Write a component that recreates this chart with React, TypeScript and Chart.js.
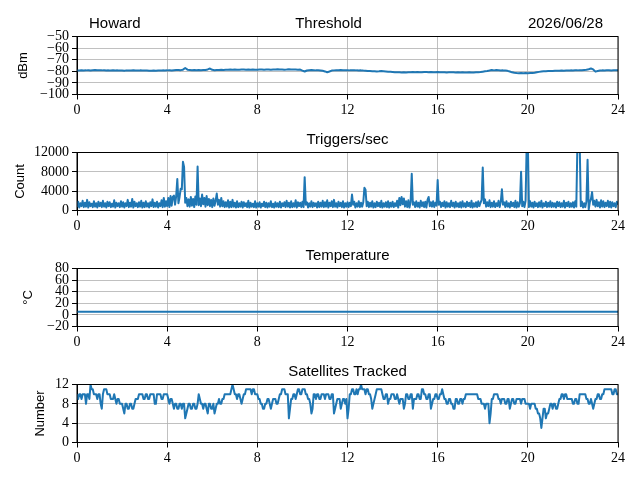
import { useEffect, useRef } from 'react';
import { Chart, registerables } from 'chart.js';

Chart.register(...registerables);

// ---- Data ----
const HOUR_TICKS = [0, 4, 8, 12, 16, 20, 24];
const THRESHOLD_STEP_HOURS = 0.1;
const DENSE_STEP_HOURS = 0.05;

const THRESHOLD_TICKS = [-100, -90, -80, -70, -60, -50];
const TRIGGER_TICKS = [0, 4000, 8000, 12000];
const TEMPERATURE_TICKS = [-20, 0, 20, 40, 60, 80];
const SATELLITE_TICKS = [0, 4, 8, 12];

const THRESHOLD_DBM = [
  -79.2, -79.4, -79.1, -79.3, -79.2, -79.0, -79.3, -79.1, -78.9, -79.0,
  -79.1, -79.2, -79.0, -79.3, -79.2, -79.4, -79.1, -79.3, -79.2, -79.4,
  -79.3, -79.5, -79.2, -79.4, -79.3, -79.1, -79.3, -79.4, -79.2, -79.3,
  -79.4, -79.3, -79.5, -79.6, -79.4, -79.5, -79.3, -79.4, -79.2, -79.3,
  -79.2, -79.0, -79.3, -79.1, -78.9, -78.8, -79.0, -78.6, -77.2, -78.6,
  -78.8, -79.0, -78.8, -79.1, -78.9, -79.0, -78.8, -78.9, -78.4, -77.6,
  -78.7, -79.0, -78.8, -78.9, -78.7, -78.8, -78.6, -78.7, -78.5, -78.6,
  -78.5, -78.7, -78.6, -78.5, -78.4, -78.6, -78.5, -78.7, -78.5, -78.6,
  -78.6, -78.5, -78.4, -78.6, -78.5, -78.4, -78.6, -78.5, -78.4, -78.3,
  -78.5, -78.4, -78.6, -78.5, -78.3, -78.4, -78.5, -78.4, -78.6, -78.5,
  -79.4, -80.2, -79.3, -79.0, -78.9, -79.0, -79.2, -79.1, -79.3, -79.6,
  -80.1, -80.8, -80.2, -79.4, -79.2, -79.0, -79.1, -78.9, -79.0, -79.1,
  -79.0, -79.2, -79.1, -79.0, -79.2, -79.3, -79.2, -79.4, -79.5, -79.7,
  -79.8, -80.0, -79.9, -80.1, -80.0, -79.8, -79.9, -80.1, -80.3, -80.4,
  -80.6, -80.8, -80.9, -80.8, -81.0, -80.9, -81.1, -80.9, -80.8, -80.7,
  -80.8, -80.7, -80.9, -80.8, -80.6, -80.7, -80.8, -80.7, -80.9, -80.8,
  -80.7, -80.8, -80.9, -80.8, -81.0, -80.9, -80.8, -80.9, -81.0, -80.9,
  -81.0, -80.9, -81.1, -81.0, -80.9, -81.0, -81.1, -80.9, -80.8, -80.6,
  -80.3, -80.0, -79.7, -79.3, -78.8, -79.2, -78.9, -79.1, -79.3, -79.2,
  -79.4, -79.6, -80.2, -80.9, -81.3, -81.5, -81.6, -81.4, -81.6, -81.5,
  -81.6, -81.5, -81.4, -81.2, -80.8, -80.5, -80.2, -80.0, -79.9, -79.8,
  -79.7, -79.8, -79.6, -79.5, -79.6, -79.4, -79.5, -79.3, -79.4, -79.2,
  -79.3, -79.1, -79.2, -79.0, -79.1, -78.9, -78.7, -78.2, -77.6, -78.4,
  -80.3, -79.8, -79.4, -79.2, -79.3, -79.1, -79.2, -79.3, -79.1, -79.2,
  -79.2,
];

// one value every 3 minutes (20 per hour)
const TRIGGERS_PER_SEC = [
  700, 1800, 600, 1500, 900, 2000, 700, 1600, 800, 2200, 600, 1700, 900, 1400, 700, 1900, 800, 1500, 600, 1800,
  900, 1600, 700, 2000, 800, 1500, 600, 1800, 900, 1700, 700, 1400, 800, 2100, 600, 1600, 900, 1500, 700, 1900,
  800, 1700, 600, 1500, 900, 2200, 700, 1600, 800, 2400, 600, 1800, 900, 1500, 700, 1700, 800, 2000, 600, 1600,
  700, 1900, 800, 1500, 600, 1700, 900, 2300, 700, 1600, 800, 1800, 600, 1500, 900, 2100, 700, 2600, 800, 1900,
  900, 2600, 700, 3000, 1000, 2800, 3100, 1200, 3000, 6500, 1500, 2800, 4500, 4400, 10100, 9000, 1600, 2600, 900, 2300,
  800, 2800, 1000, 2400, 700, 2900, 1200, 9100, 1100, 2500, 900, 3300, 1300, 2600, 800, 3000, 1100, 2400, 900, 2200,
  700, 2500, 1000, 2000, 3500, 1200, 2200, 800, 2600, 900, 1900, 700, 1700, 800, 2100, 600, 1800, 700, 2200, 800,
  1600, 600, 1900, 700, 1500, 800, 1800, 600, 1700, 900, 1500, 700, 2000, 600, 1600, 800, 1400, 700, 1900, 600,
  1500, 800, 1700, 600, 1400, 900, 1800, 700, 1600, 600, 1500, 800, 1900, 700, 1400, 600, 1700, 800, 1500, 700,
  1800, 600, 1500, 900, 1700, 700, 2000, 800, 1600, 600, 1900, 700, 1500, 800, 2100, 600, 1700, 900, 1600, 700,
  1800, 700, 6900, 1200, 1700, 600, 1500, 800, 1900, 700, 1600, 900, 1500, 600, 1800, 700, 1600, 800, 2000, 700,
  1700, 800, 2100, 600, 1600, 900, 1900, 700, 2200, 800, 1500, 600, 1800, 900, 1600, 700, 1900, 600, 1500, 800,
  1700, 700, 1600, 900, 3300, 1200, 1800, 600, 1500, 800, 1900, 700, 1600, 800, 1700, 4700, 4300, 900, 1800, 700,
  1600, 800, 1900, 600, 1500, 700, 1800, 900, 1600, 700, 2000, 600, 1500, 800, 1700, 700, 1900, 600, 1600, 800,
  1800, 700, 1500, 900, 2000, 600, 2600, 1100, 2800, 1300, 2500, 800, 1900, 700, 2100, 600, 1800, 7600, 1200, 1700,
  700, 1900, 800, 1600, 600, 2000, 900, 1700, 700, 1800, 600, 2200, 2800, 900, 1700, 800, 1900, 700, 1600, 1000,
  6300, 1200, 1800, 700, 1600, 900, 1900, 600, 1700, 800, 1500, 700, 2000, 900, 1600, 600, 1800, 800, 1500, 700,
  1700, 600, 1900, 800, 1500, 700, 1800, 900, 1600, 700, 2000, 600, 1500, 800, 1700, 700, 1900, 900, 1600, 2200,
  8900, 1500, 2300, 800, 1700, 900, 2100, 700, 1600, 800, 1900, 700, 1500, 900, 2000, 700, 1800, 4400, 1200, 1700,
  700, 1900, 800, 1500, 600, 1800, 900, 1600, 700, 2000, 600, 1700, 800, 1500, 8000, 900, 1800, 700, 2000, 14000,
  14000, 700, 1900, 800, 1600, 600, 1800, 900, 1500, 700, 1700, 800, 2000, 600, 1500, 900, 1800, 700, 1600, 800,
  1900, 700, 1600, 800, 1500, 600, 1800, 900, 1700, 700, 1500, 800, 2000, 600, 1600, 900, 1800, 700, 1500, 800,
  1700, 600, 1900, 800, 14000, 14000, 14000, 900, 1800, 600, 1500, 700, 1900, 10500, 200, 1700, 2400, 3800, 1200, 2000,
  800, 2200, 900, 1700, 600, 2100, 800, 1900, 700, 1600, 900, 2000, 700, 1800, 600, 1700, 900, 1500, 700, 1800,
  1200,
];

const TEMPERATURE_HOURS = [0, 2, 4, 6, 8, 10, 12, 14, 16, 18, 20, 22, 24];
const TEMPERATURE_C = [5.5, 5.5, 5.5, 5.5, 5.5, 5.5, 5.5, 5.5, 5.5, 5.5, 5.5, 5.5, 5.5];

// one value every 3 minutes (20 per hour)
const SATELLITES = [
  10, 9, 10, 10, 9, 10, 10, 10, 8, 10, 10, 9, 12, 11, 11, 10, 10, 10, 9, 10,
  10, 8, 7, 10, 11, 11, 11, 10, 10, 10, 9, 9, 9, 10, 9, 8, 9, 9, 8, 8,
  8, 7, 6, 8, 8, 7, 7, 8, 8, 7, 7, 8, 9, 9, 9, 10, 10, 10, 10, 9,
  9, 10, 10, 9, 9, 10, 10, 10, 10, 8, 8, 10, 10, 10, 10, 9, 9, 10, 10, 10,
  10, 9, 8, 9, 9, 8, 7, 8, 8, 7, 7, 8, 8, 7, 8, 8, 5, 6, 7, 8,
  8, 7, 7, 8, 8, 7, 7, 8, 10, 9, 8, 8, 7, 8, 8, 7, 6, 8, 8, 7,
  7, 8, 6, 7, 8, 8, 9, 8, 8, 9, 9, 10, 10, 10, 10, 10, 10, 11, 12, 11,
  10, 10, 9, 10, 10, 9, 8, 9, 10, 10, 11, 11, 11, 11, 11, 10, 11, 11, 10, 10,
  10, 9, 9, 8, 8, 7, 7, 8, 8, 9, 9, 8, 7, 8, 9, 9, 9, 8, 8, 9,
  10, 10, 11, 11, 11, 10, 10, 10, 5, 7, 9, 9, 10, 10, 9, 10, 11, 11, 10, 10,
  11, 11, 11, 10, 10, 9, 9, 8, 6, 7, 10, 10, 9, 10, 10, 9, 9, 10, 10, 10,
  9, 10, 10, 10, 9, 9, 10, 10, 6, 7, 8, 9, 9, 9, 7, 8, 9, 9, 8, 9,
  5, 7, 10, 10, 11, 11, 10, 10, 11, 10, 11, 11, 12, 11, 11, 11, 10, 11, 11, 10,
  10, 9, 7, 8, 9, 10, 11, 11, 11, 11, 11, 10, 9, 9, 10, 10, 8, 9, 9, 10,
  10, 10, 9, 9, 10, 9, 8, 9, 9, 9, 7, 8, 10, 10, 9, 9, 10, 10, 7, 9,
  9, 9, 10, 10, 9, 9, 11, 11, 10, 10, 9, 9, 10, 10, 7, 8, 9, 9, 10, 10,
  9, 9, 10, 10, 11, 10, 9, 9, 8, 8, 9, 9, 8, 8, 7, 7, 9, 9, 8, 8,
  9, 9, 8, 9, 9, 10, 10, 10, 10, 10, 10, 10, 10, 10, 10, 10, 9, 9, 9, 8,
  8, 8, 7, 8, 8, 8, 4, 6, 9, 9, 10, 10, 10, 10, 9, 9, 8, 9, 9, 9,
  8, 8, 9, 9, 7, 8, 9, 9, 8, 8, 9, 9, 9, 9, 8, 9, 9, 9, 8, 8,
  8, 8, 7, 8, 8, 8, 8, 7, 7, 6, 6, 5, 3, 5, 7, 7, 5, 6, 6, 7,
  8, 8, 7, 8, 8, 7, 7, 8, 9, 9, 10, 10, 9, 10, 10, 9, 9, 9, 9, 9,
  8, 8, 9, 9, 8, 8, 10, 10, 10, 10, 10, 10, 9, 9, 8, 8, 9, 8, 7, 8,
  9, 9, 10, 10, 9, 9, 10, 10, 11, 11, 11, 11, 11, 11, 11, 10, 10, 11, 11, 10,
  10,
];

// ---- Layout / style ----
const W = 640;
const PANEL_H = 116;
const AREA_TOP = 36.5;
const X_AXIS_H = 21.5;
const Y_AXIS_W = 77;
const RIGHT_PAD = 22;
const TITLE_GAP = 9;
const LINE_COLOR = '#1f77b4';
const GRID_COLOR = '#b0b0b0';
const TICK_FONT = 'Liberation Serif';
const TEXT_FONT = 'Liberation Sans';

type TitleSpec = { text: string; x?: number; align: CanvasTextAlign };
type Panel = {
  titles: TitleSpec[];
  ylabel: string;
  ylabelX: number;
  yMin: number;
  yMax: number;
  yTicks: number[];
  points: { x: number; y: number }[];
};

const sampled = (values: number[], step: number) =>
  values.map((v, i) => ({ x: Math.round(i * step * 1000) / 1000, y: v }));

const PANELS: Panel[] = [
  {
    titles: [
      { text: 'Howard', x: 89, align: 'left' },
      { text: 'Threshold', x: 328.5, align: 'center' },
      { text: '2026/06/28', x: 603, align: 'right' },
    ],
    ylabel: 'dBm', ylabelX: 23, yMin: -100, yMax: -50, yTicks: THRESHOLD_TICKS,
    points: sampled(THRESHOLD_DBM, THRESHOLD_STEP_HOURS),
  },
  {
    titles: [{ text: 'Triggers/sec', align: 'center' }],
    ylabel: 'Count', ylabelX: 20.5, yMin: 0, yMax: 12000, yTicks: TRIGGER_TICKS,
    points: sampled(TRIGGERS_PER_SEC, DENSE_STEP_HOURS),
  },
  {
    titles: [{ text: 'Temperature', align: 'center' }],
    ylabel: '°C', ylabelX: 28, yMin: -20, yMax: 80, yTicks: TEMPERATURE_TICKS,
    points: TEMPERATURE_HOURS.map((h, i) => ({ x: h, y: TEMPERATURE_C[i] })),
  },
  {
    titles: [{ text: 'Satellites Tracked', align: 'center' }],
    ylabel: 'Number', ylabelX: 40, yMin: 0, yMax: 12, yTicks: SATELLITE_TICKS,
    points: sampled(SATELLITES, DENSE_STEP_HOURS),
  },
];

const fmt = (v: number | string) => String(v).replace('-', '\u2212');

const decorPlugin = (panel: Panel) => ({
  id: 'panelDecor',
  afterDraw(chart: any) {
    const { ctx, chartArea: a } = chart;
    ctx.save();
    ctx.strokeStyle = '#000';
    ctx.lineWidth = 1;
    ctx.strokeRect(a.left, a.top, a.right - a.left, a.bottom - a.top);
    ctx.fillStyle = '#000';
    ctx.font = `15px "${TEXT_FONT}"`;
    ctx.textBaseline = 'alphabetic';
    for (const t of panel.titles) {
      ctx.textAlign = t.align;
      const x = t.x ?? (a.left + a.right) / 2;
      ctx.fillText(t.text, x, a.top - TITLE_GAP);
    }
    ctx.translate(panel.ylabelX, (a.top + a.bottom) / 2);
    ctx.rotate(-Math.PI / 2);
    ctx.font = `13px "${TEXT_FONT}"`;
    ctx.textAlign = 'center';
    ctx.textBaseline = 'middle';
    ctx.fillText(panel.ylabel, 0, 0);
    ctx.restore();
  },
});

const axisCommon = {
  grid: { color: GRID_COLOR, lineWidth: 0.8, tickColor: '#000', tickLength: 5, tickWidth: 1 },
  border: { display: true, color: '#000', width: 1 },
};

export default function App() {
  const refs = useRef<(HTMLCanvasElement | null)[]>([]);

  useEffect(() => {
    const charts = PANELS.map((panel, i) => {
      const canvas = refs.current[i]!;
      return new Chart(canvas, {
        type: 'line',
        data: {
          datasets: [
            {
              data: panel.points,
              borderColor: LINE_COLOR,
              borderWidth: 2,
              pointRadius: 0,
              fill: false,
              tension: 0,
              borderJoinStyle: 'round',
            },
          ],
        },
        options: {
          responsive: false,
          animation: false,
          events: [],
          layout: { padding: { top: AREA_TOP, right: RIGHT_PAD, left: 0, bottom: 0 } },
          plugins: { legend: { display: false }, tooltip: { enabled: false }, title: { display: false } },
          scales: {
            x: {
              type: 'linear',
              min: 0,
              max: 24,
              afterBuildTicks: (ax: any) => {
                ax.ticks = HOUR_TICKS.map((v) => ({ value: v }));
              },
              afterFit: (ax: any) => {
                ax.height = X_AXIS_H;
              },
              ticks: {
                autoSkip: false,
                maxRotation: 0,
                padding: 2,
                color: '#000',
                font: { family: TICK_FONT, size: 14 },
                callback: (v: any) => fmt(v),
              },
              ...axisCommon,
            },
            y: {
              type: 'linear',
              min: panel.yMin,
              max: panel.yMax,
              afterBuildTicks: (ax: any) => {
                ax.ticks = panel.yTicks.map((v) => ({ value: v }));
              },
              afterFit: (ax: any) => {
                ax.width = Y_AXIS_W;
              },
              ticks: {
                autoSkip: false,
                padding: 3,
                color: '#000',
                font: { family: TICK_FONT, size: 14 },
                callback: (v: any) => fmt(v),
              },
              ...axisCommon,
            },
          },
        },
        plugins: [decorPlugin(panel)],
      } as any);
    });
    return () => charts.forEach((c) => c.destroy());
  }, []);

  return (
    <div style={{ position: 'fixed', left: 0, top: 0, width: W, height: 480, background: '#fff' }}>
      {PANELS.map((_, i) => (
        <canvas
          key={i}
          ref={(el) => {
            refs.current[i] = el;
          }}
          width={W}
          height={PANEL_H}
          style={{ position: 'absolute', left: 0, top: i * PANEL_H, width: W, height: PANEL_H }}
        />
      ))}
    </div>
  );
}
